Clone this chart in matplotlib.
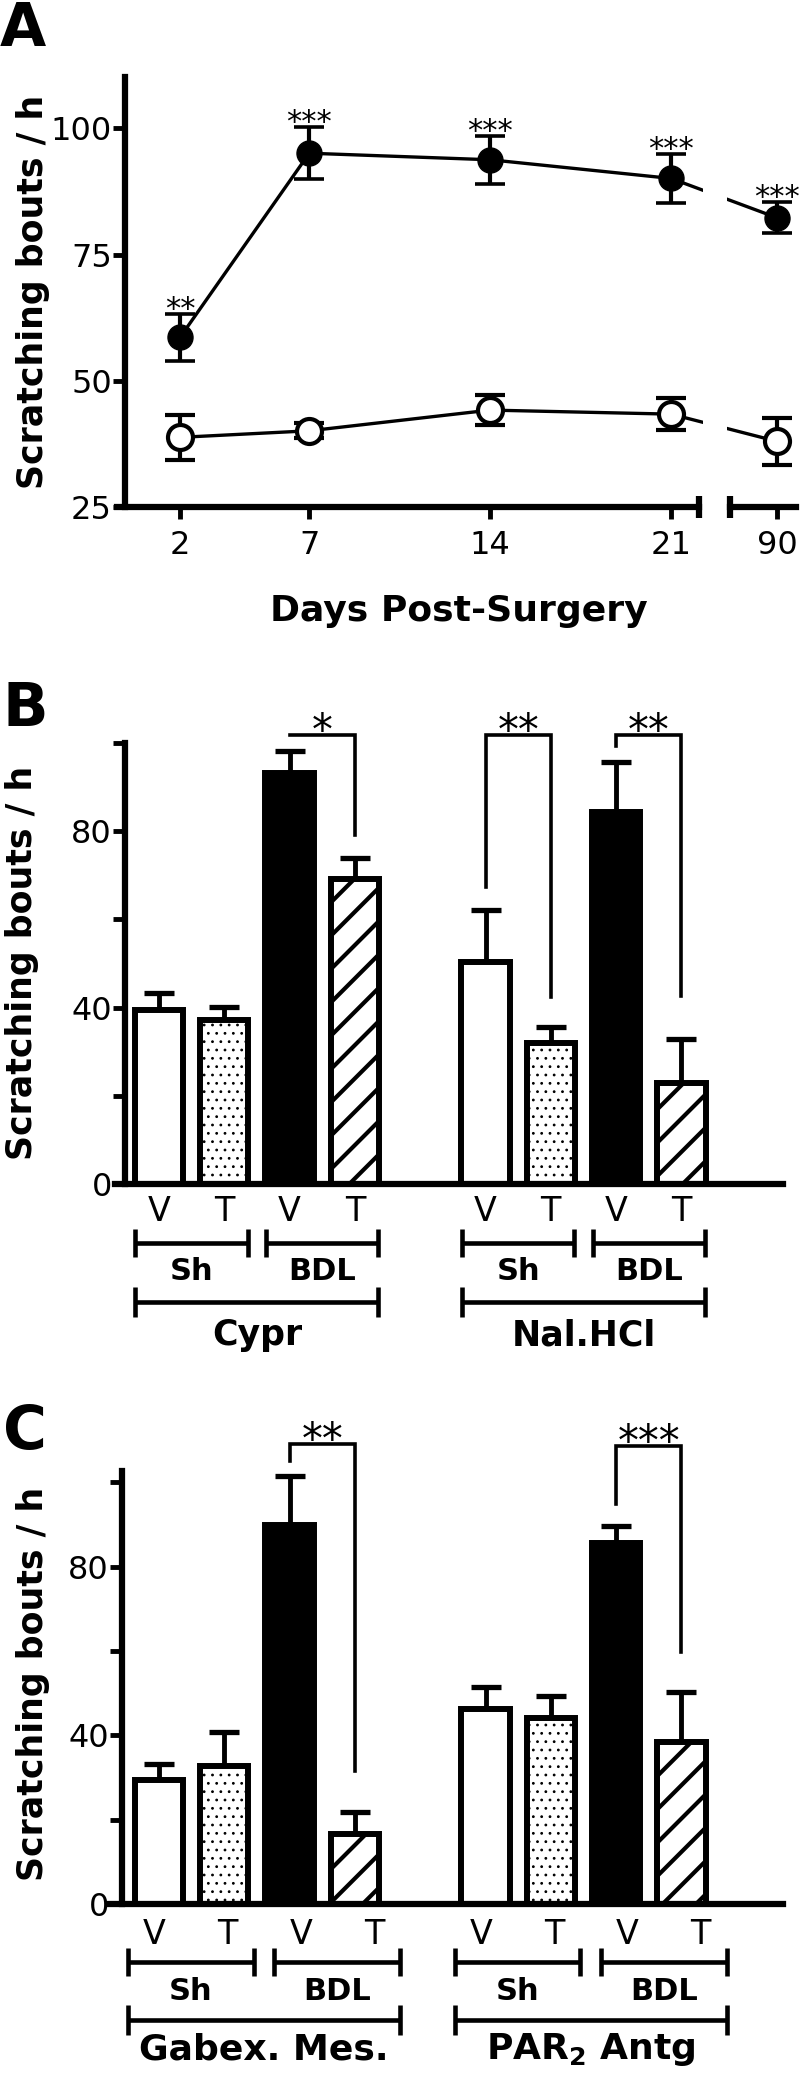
import matplotlib
matplotlib.use("Agg")
import matplotlib.pyplot as plt
from matplotlib.transforms import blended_transform_factory
import numpy as np

W, H = 800, 2077
plt.rcParams["font.family"] = ["DejaVu Sans"]
plt.rcParams["hatch.color"] = "black"
plt.rcParams["hatch.linewidth"] = 3.0

# ---- panel A: scratching over time ----
days = [2, 7, 14, 21, 90]
bdl_mean = [58.6, 95.1, 93.8, 90.1, 82.3]
bdl_err = [4.6, 5.2, 4.8, 4.8, 3.1]
sham_mean = [38.8, 40.1, 44.2, 43.4, 38.0]
sham_err = [4.5, 1.5, 2.9, 3.2, 4.7]
bdl_stars = ["**", "***", "***", "***", "***"]

# ---- panels B and C: bars (Sh V, Sh T, BDL V, BDL T) x 2 drugs ----
conds = ["V", "T", "V", "T"]
surgery = ["Sh", "BDL"]

b_groups = ["Cypr", "Nal.HCl"]
b_mean = [39.5, 37.3, 93.2, 69.2, 50.4, 31.9, 84.3, 23.0]
b_err = [3.9, 2.9, 4.9, 4.7, 11.8, 3.6, 11.3, 9.8]
# (bar i, bar j, label, bracket top, left end, right end)
b_brackets = [(2, 3, "*", 101.8, 101.8, 79.1),
              (4, 5, "**", 101.8, 67.3, 42.4),
              (6, 7, "**", 101.8, 99.3, 42.6)]

c_groups = ["Gabex. Mes.", r"PAR$_\mathbf{2}$ Antg"]
c_mean = [29.4, 32.7, 89.9, 16.7, 46.2, 44.2, 85.6, 38.4]
c_err = [3.8, 8.2, 11.7, 5.1, 5.3, 5.2, 4.1, 11.9]
c_brackets = [(2, 3, "**", 109.2, 105.1, 31.5),
              (6, 7, "***", 108.6, 94.9, 59.8)]

fig = plt.figure(figsize=(W / 100, H / 100), dpi=100)
LW = 4.5


def fy(py):
    return 1 - py / H


def ax_rect(x0, y0, x1, y1):
    return [x0 / W, 1 - y1 / H, (x1 - x0) / W, (y1 - y0) / H]


def style_axis(ax):
    for s in ["top", "right"]:
        ax.spines[s].set_visible(False)
    for s in ["left", "bottom"]:
        ax.spines[s].set_linewidth(LW)
        ax.spines[s].set_capstyle("projecting")
    ax.tick_params(axis="both", width=3.5, length=8.5, labelsize=23)
    ax.tick_params(axis="y", pad=1)
    ax.tick_params(axis="x", pad=8)


# ================= A =================
def day_pos(d):
    return d if d <= 21 else 25.1


def ax_x(px):
    return 2 + (px - 180) / 25.85


xa = [day_pos(d) for d in days]
axA1 = fig.add_axes(ax_rect(125, 77, 703, 507))
axA2 = fig.add_axes(ax_rect(727, 77, 796, 507))
ekw = dict(color="k", ms=18, lw=2.4, elinewidth=3, capsize=10.8, capthick=2.6)
for ax, (p0, p1) in ((axA1, (125, 703)), (axA2, (727, 796))):
    ax.set_xlim(ax_x(p0), ax_x(p1))
    ax.set_ylim(25, 110.2)
    ax.patch.set_visible(False)
    style_axis(ax)
    ax.errorbar(xa, bdl_mean, yerr=bdl_err, fmt="-o", **ekw)
    ax.errorbar(xa, sham_mean, yerr=sham_err, fmt="-o", mfc="white", mec="k",
                mew=3, **ekw)

axA1.set_xticks(xa[:4])
axA1.set_xticklabels([str(d) for d in days[:4]])
axA1.set_yticks([25, 50, 75, 100])
axA1.spines["bottom"].set_bounds(ax_x(117), ax_x(699))
axA2.set_xticks(xa[4:])
axA2.set_xticklabels([str(d) for d in days[4:]])
axA2.spines["left"].set_visible(False)
axA2.set_yticks([])
axA2.spines["bottom"].set_bounds(ax_x(730), ax_x(796))
axA1.plot([ax_x(699)] * 2, [22.8, 27.2], color="k", lw=LW, clip_on=False, solid_capstyle="butt")
axA2.plot([ax_x(730)] * 2, [22.8, 27.2], color="k", lw=LW, clip_on=False, solid_capstyle="butt")

for x, m, e, s in zip(xa, bdl_mean, bdl_err, bdl_stars):
    axA1.annotate(s, (x, m + e), xytext=(0, -3), textcoords="offset points",
                  ha="center", va="baseline", fontsize=22, annotation_clip=False)

fig.text(459 / W, fy(621), "Days Post-Surgery", ha="center", va="baseline",
         fontsize=26, fontweight="bold")

# ================= B, C =================
bar_pos = [0, 1, 2, 3, 5, 6, 7, 8]
faces = ["white", "white", "black", "white"] * 2
hatches = ["", "..", "", "/"] * 2
hatch_lw = {"..": 0.8, "/": 3.0}
SLOT, X0 = 65.3, 159


def bx(px):
    return (px - X0) / SLOT


def bar_panel(top_px, zero_px, ytop, left_px, start_px, means, errs, brackets,
              groups, rows, stretch, shift, group_fs):
    ax = fig.add_axes(ax_rect(left_px, top_px, 783, zero_px))
    ax.set_xlim(bx(left_px), bx(783))
    ax.set_ylim(0, ytop)
    ax.patch.set_visible(False)
    style_axis(ax)
    ax.spines["bottom"].set_bounds(bx(start_px), bx(783))
    ax.set_xticks([])
    ax.set_yticks([0, 20, 40, 60, 80, 100])
    ax.set_yticklabels(["0", "", "40", "", "80", ""])

    ax.errorbar(bar_pos, means, yerr=[np.zeros(len(errs)), errs], fmt="none",
                ecolor="k", elinewidth=3.5, capsize=11, capthick=3.8, zorder=1)
    bars = ax.bar(bar_pos, means, width=0.74, color=faces, edgecolor="k",
                  linewidth=4.3, zorder=2)
    for b, h in zip(bars, hatches):
        if h:
            b.set_hatch(h)
            if hasattr(b, "set_hatch_linewidth"):
                b.set_hatch_linewidth(hatch_lw[h])

    for i, j, lab, top, lend, rend in brackets:
        xi, xj = bar_pos[i], bar_pos[j]
        ax.plot([xi, xi, xj, xj], [lend, top, top, rend], color="k", lw=2.6,
                clip_on=False, solid_joinstyle="miter")
        ax.annotate(lab, ((xi + xj) / 2, top), xytext=(0, -6.5),
                    textcoords="offset points", ha="center", va="baseline",
                    fontsize=30, annotation_clip=False)

    vt_base, span_y, surg_base, grp_y, grp_base = rows
    tr = blended_transform_factory(ax.transData, fig.transFigure)
    pad = 0.36 * stretch

    def lx(p):
        g0 = 0 if p < 5 else 5
        return g0 + stretch * (p - g0) + shift

    def span(x0, x1, y, half):
        kw = dict(color="k", lw=3.3, transform=tr, clip_on=False, solid_capstyle="butt")
        ax.plot([x0, x1], [fy(y), fy(y)], **kw)
        for x in (x0, x1):
            ax.plot([x, x], [fy(y - half), fy(y + half)], **kw)

    for k, p in enumerate(bar_pos):
        ax.text(lx(p), fy(vt_base), conds[k % 4], ha="center", va="baseline",
                fontsize=24, transform=tr)
    for g, g0 in enumerate((0, 5)):
        for s in range(2):
            a, b = lx(g0 + 2 * s) - pad, lx(g0 + 2 * s + 1) + pad
            span(a, b, span_y, 14)
            ax.text((a + b) / 2, fy(surg_base), surgery[s], ha="center",
                    va="baseline", fontsize=22, fontweight="bold", transform=tr)
        a, b = lx(g0) - pad, lx(g0 + 3) + pad
        span(a, b, grp_y, 15)
        ax.text((a + b) / 2, fy(grp_base), groups[g], ha="center", va="baseline",
                fontsize=group_fs, fontweight="bold", transform=tr)
    return ax


bar_panel(743, 1184, 100, 125, 115, b_mean, b_err, b_brackets, b_groups,
          (1221, 1243, 1280, 1302, 1345), 1.0, 0.0, 25)
bar_panel(1471, 1904, 102.7, 122, 110, c_mean, c_err, c_brackets, c_groups,
          (1944, 1962, 2000, 2020, 2059), 1.12, -0.07, 26)

# y labels and panel letters
for cx, cy in ((33, 292), (22, 963), (33, 1684)):
    fig.text(cx / W, fy(cy), "Scratching bouts / h", rotation=90, ha="center",
             va="center", fontsize=25, fontweight="bold")
for lab, x, base in (("A", 0, 46), ("B", 3, 726), ("C", 3, 1449)):
    fig.text(x / W, fy(base), lab, ha="left", va="baseline", fontsize=43,
             fontweight="bold")

fig.savefig("out.png", dpi=100)
